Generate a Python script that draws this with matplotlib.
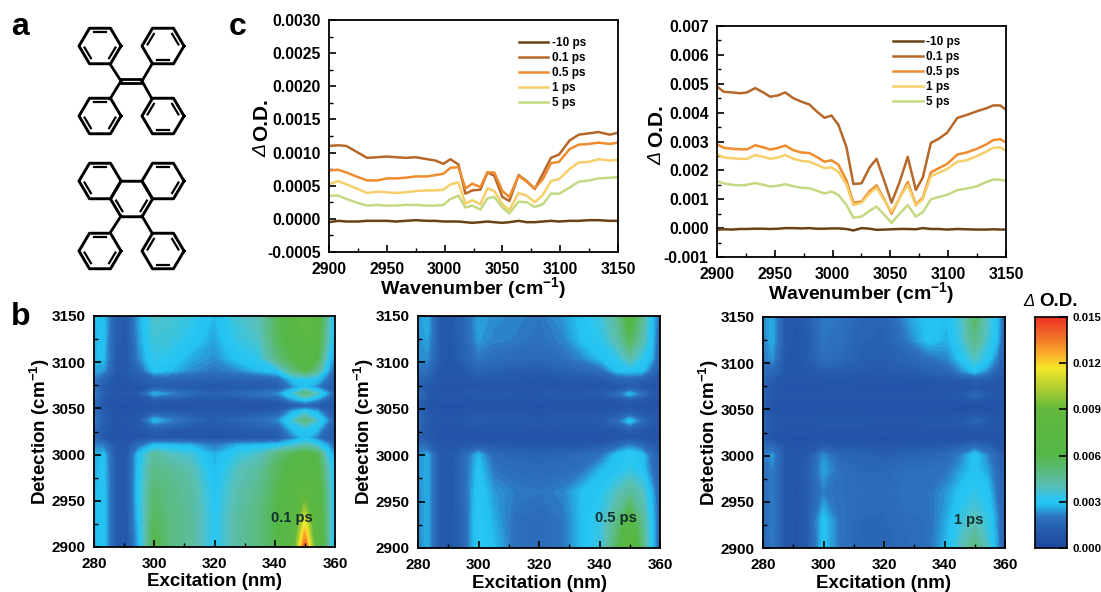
import numpy as np
import matplotlib
matplotlib.use("Agg")
import matplotlib.pyplot as plt
from matplotlib.colors import LinearSegmentedColormap

plt.rcParams["font.family"] = ["Liberation Sans", "DejaVu Sans"]
plt.rcParams["font.weight"] = "bold"
plt.rcParams["axes.labelweight"] = "bold"
plt.rcParams["mathtext.fontset"] = "custom"
plt.rcParams["mathtext.rm"] = "Liberation Sans:bold"
plt.rcParams["mathtext.bf"] = "Liberation Sans:bold"
plt.rcParams["mathtext.default"] = "bf"

W, H = 1101, 592

# ---- panel c data (units 1e-3 O.D.)
series_labels = ["-10 ps", "0.1 ps", "0.5 ps", "1 ps", "5 ps"]
series_colors = ["#6b4216", "#b5682a", "#ee8c2e", "#f6cf6a", "#c3d982"]

wn_left = [2900, 2908, 2915, 2925, 2933, 2942, 2950, 2958, 2966, 2975, 2985, 2992, 2999, 3005, 3012, 3018, 3024,
           3031, 3037, 3043, 3050, 3056, 3064, 3071, 3078, 3085, 3092, 3099, 3108, 3116, 3125, 3133, 3143, 3150]
left_m10 = [-.05, -.03, -.04, -.04, -.03, -.03, -.03, -.04, -.03, -.02, -.03, -.03, -.04, -.04, -.04, -.05, -.06,
            -.05, -.04, -.05, -.06, -.05, -.03, -.05, -.05, -.04, -.03, -.04, -.03, -.03, -.02, -.02, -.03, -.03]
left_01 = [1.10, 1.11, 1.10, 1.00, .92, .93, .94, .93, .92, .93, .90, .88, .83, .90, .82, .38, .43,
           .44, .70, .65, .33, .27, .66, .57, .45, .68, .92, .97, 1.18, 1.27, 1.29, 1.31, 1.27, 1.30]
left_05 = [.73, .74, .70, .63, .58, .58, .61, .61, .62, .64, .64, .66, .68, .77, .78, .46, .53,
           .48, .70, .70, .42, .33, .65, .56, .46, .60, .84, .86, 1.05, 1.12, 1.13, 1.15, 1.13, 1.15]
left_1 = [.52, .57, .52, .45, .39, .41, .40, .39, .40, .42, .43, .43, .44, .52, .55, .23, .28,
          .22, .46, .42, .22, .13, .39, .35, .25, .36, .57, .60, .75, .85, .86, .90, .88, .89]
left_5 = [.35, .35, .30, .24, .20, .21, .20, .20, .21, .21, .20, .20, .21, .30, .35, .17, .20,
          .14, .31, .33, .17, .08, .26, .25, .18, .22, .38, .38, .47, .56, .58, .61, .62, .63]

wn_right = [2900, 2906, 2913, 2920, 2926, 2933, 2940, 2946, 2953, 2959, 2966, 2973, 2980, 2986, 2993, 2999, 3005, 3012, 3018,
            3025, 3032, 3038, 3045, 3051, 3058, 3065, 3072, 3078, 3085, 3092, 3099, 3108, 3116, 3125, 3133, 3139, 3145, 3150]
right_m10 = [-.05, -.04, -.05, -.03, -.03, -.02, -.02, -.03, -.02, 0, 0, -.01, 0, -.02, -.02, -.01, -.01, -.03, -.08,
             0, -.02, -.06, -.05, -.04, -.03, -.03, -.04, 0, -.03, -.03, -.05, -.03, -.04, -.05, -.05, -.04, -.05, -.05]
right_01 = [4.9, 4.72, 4.70, 4.67, 4.70, 4.85, 4.70, 4.55, 4.60, 4.70, 4.50, 4.38, 4.28, 4.05, 3.82, 3.90, 3.58, 2.80, 1.53,
            1.55, 2.10, 2.40, 1.60, .88, 1.60, 2.47, 1.32, 1.75, 2.95, 3.10, 3.30, 3.82, 3.92, 4.05, 4.15, 4.25, 4.25, 4.10]
right_05 = [2.90, 2.78, 2.75, 2.73, 2.73, 2.87, 2.80, 2.72, 2.78, 2.86, 2.70, 2.62, 2.60, 2.47, 2.30, 2.35, 2.20, 1.65, .88,
            .92, 1.28, 1.48, .98, .50, 1.05, 1.60, .82, 1.05, 1.93, 2.08, 2.22, 2.55, 2.62, 2.75, 2.90, 3.05, 3.08, 2.97]
right_1 = [2.55, 2.45, 2.42, 2.40, 2.40, 2.53, 2.47, 2.40, 2.45, 2.53, 2.40, 2.33, 2.30, 2.20, 2.08, 2.10, 1.95, 1.50, .80,
           .88, 1.20, 1.40, .95, .57, 1.05, 1.50, .78, 1.00, 1.80, 1.92, 2.05, 2.30, 2.35, 2.50, 2.65, 2.78, 2.80, 2.68]
right_5 = [1.62, 1.55, 1.50, 1.48, 1.50, 1.56, 1.50, 1.44, 1.47, 1.52, 1.45, 1.40, 1.38, 1.30, 1.20, 1.27, 1.15, .80, .36,
           .40, .60, .75, .45, .18, .50, .80, .40, .55, 1.00, 1.08, 1.15, 1.32, 1.37, 1.45, 1.60, 1.68, 1.68, 1.63]

# ---- panel b data (units 1e-3 O.D.), rows follow detection, columns follow excitation
excitation = [280, 283, 287, 291, 295, 300, 305, 312, 320, 328, 335, 341, 346, 350, 354, 357, 360]
detection = [2900, 2930, 2960, 2985, 3000, 3010, 3018, 3028, 3037, 3046, 3053, 3060, 3066, 3073, 3082, 3092, 3105, 3125, 3150]

map_01 = [
    [2.6, 3.0, 1.1, 0.9, 2.6, 6.0, 5.0, 4.5, 3.1, 4.4, 5.0, 6.0, 7.5, 14.0, 7.2, 5.0, 2.2],
    [2.6, 3.0, 1.1, 1.0, 2.9, 5.6, 5.0, 4.5, 3.1, 4.4, 5.0, 6.0, 7.2, 11.0, 7.0, 5.0, 2.2],
    [2.6, 3.0, 1.1, 1.0, 3.1, 5.2, 4.9, 4.4, 3.0, 4.2, 4.8, 5.8, 6.6, 8.0, 6.6, 4.8, 2.3],
    [2.6, 2.9, 1.1, 1.0, 3.0, 4.8, 4.6, 4.1, 2.7, 3.9, 4.4, 5.6, 6.2, 6.8, 6.2, 4.4, 2.4],
    [2.6, 2.8, 1.1, 1.0, 2.9, 4.4, 3.9, 3.6, 2.6, 3.4, 3.8, 5.0, 5.8, 6.2, 5.8, 3.6, 2.2],
    [2.2, 2.0, 1.0, 0.9, 1.8, 2.8, 2.7, 2.6, 2.0, 2.6, 2.7, 2.9, 3.4, 4.0, 3.4, 2.6, 1.6],
    [1.7, 1.0, 0.8, 0.7, 0.8, 0.9, 0.9, 0.8, 0.8, 0.8, 0.9, 1.0, 2.0, 2.8, 2.0, 1.3, 1.1],
    [1.8, 1.1, 0.8, 0.8, 0.9, 1.3, 1.1, 1.0, 1.0, 1.1, 1.2, 1.4, 2.8, 3.0, 2.8, 1.6, 1.2],
    [2.2, 1.3, 0.8, 0.9, 1.1, 2.7, 2.2, 1.6, 1.2, 1.5, 1.8, 2.2, 3.5, 5.0, 3.5, 2.5, 1.3],
    [1.8, 1.1, 0.8, 0.8, 0.9, 1.2, 1.1, 1.0, 1.0, 1.0, 1.1, 1.3, 2.6, 3.2, 2.6, 1.4, 1.1],
    [1.6, 0.9, 0.7, 0.7, 0.7, 0.8, 0.7, 0.7, 0.7, 0.7, 0.7, 0.8, 1.0, 1.3, 1.0, 0.9, 0.9],
    [1.9, 1.1, 0.8, 0.8, 0.8, 1.2, 1.1, 1.0, 1.0, 1.0, 1.1, 1.3, 2.4, 3.0, 2.4, 1.5, 1.1],
    [2.2, 1.3, 0.9, 0.9, 1.1, 2.6, 2.2, 1.7, 1.3, 1.6, 1.9, 2.2, 3.4, 4.9, 3.6, 2.6, 1.3],
    [1.9, 1.1, 0.8, 0.8, 0.8, 1.1, 1.0, 1.0, 0.9, 1.0, 1.0, 1.1, 2.2, 2.8, 2.2, 1.4, 1.1],
    [2.1, 1.5, 0.9, 0.9, 1.2, 1.5, 1.5, 1.4, 1.3, 1.4, 1.4, 1.6, 2.9, 3.0, 2.9, 2.0, 1.2],
    [2.6, 2.4, 1.1, 1.0, 1.6, 3.0, 2.8, 2.3, 2.0, 2.3, 2.8, 3.2, 5.0, 6.0, 4.8, 2.9, 1.5],
    [2.7, 2.8, 1.1, 1.0, 2.2, 3.3, 3.2, 2.6, 2.3, 3.0, 3.3, 5.0, 6.0, 6.8, 6.0, 3.7, 2.0],
    [2.7, 2.8, 1.2, 1.0, 2.4, 3.6, 3.5, 3.1, 2.5, 3.4, 3.8, 5.6, 6.4, 7.4, 6.4, 4.4, 2.2],
    [2.7, 2.9, 1.2, 1.1, 2.5, 3.8, 3.7, 3.4, 2.7, 3.7, 4.1, 5.7, 6.6, 9.0, 6.6, 4.6, 2.3],
]
map_05 = [
    [2.1, 2.6, 1.1, 0.9, 1.4, 3.2, 2.8, 1.9, 1.7, 2.0, 2.9, 3.6, 5.6, 7.8, 5.0, 3.0, 1.4],
    [2.2, 2.6, 1.1, 0.9, 1.5, 3.2, 2.6, 1.9, 1.7, 2.0, 2.9, 3.5, 4.9, 6.4, 4.6, 3.0, 1.4],
    [2.2, 2.6, 1.1, 0.9, 1.6, 3.1, 2.4, 2.1, 2.0, 2.2, 2.9, 3.2, 3.9, 4.5, 3.9, 2.7, 1.4],
    [2.3, 2.6, 1.1, 0.9, 1.6, 2.9, 2.0, 1.8, 1.7, 1.8, 2.0, 2.7, 3.0, 3.3, 3.0, 2.0, 1.3],
    [2.3, 2.6, 1.1, 1.0, 1.6, 2.7, 1.7, 1.5, 1.4, 1.5, 1.7, 2.0, 2.9, 3.2, 2.9, 1.8, 1.2],
    [2.0, 1.5, 1.0, 0.9, 1.0, 1.2, 1.1, 1.0, 1.0, 1.0, 1.0, 1.2, 1.7, 2.2, 1.7, 1.2, 1.0],
    [1.4, 1.0, 0.8, 0.7, 0.7, 0.7, 0.7, 0.7, 0.7, 0.7, 0.7, 0.7, 0.8, 0.9, 0.9, 0.8, 0.7],
    [1.5, 1.0, 0.8, 0.8, 0.8, 0.9, 0.9, 0.9, 0.8, 0.9, 0.9, 0.9, 1.0, 1.2, 1.0, 0.9, 0.8],
    [1.7, 1.1, 0.9, 0.9, 1.0, 1.2, 1.1, 1.1, 1.0, 1.1, 1.1, 1.2, 1.7, 2.9, 1.7, 1.2, 0.9],
    [1.5, 1.0, 0.8, 0.8, 0.8, 0.9, 0.9, 0.9, 0.8, 0.9, 0.9, 0.9, 1.0, 1.2, 1.0, 0.9, 0.8],
    [1.3, 0.9, 0.7, 0.7, 0.7, 0.7, 0.7, 0.7, 0.7, 0.7, 0.7, 0.7, 0.7, 0.8, 0.7, 0.7, 0.7],
    [1.5, 1.0, 0.8, 0.8, 0.8, 0.9, 0.9, 0.9, 0.8, 0.9, 0.9, 0.9, 1.0, 1.2, 1.0, 0.9, 0.8],
    [1.9, 1.1, 0.9, 0.9, 1.0, 1.1, 1.1, 1.0, 1.0, 1.1, 1.1, 1.2, 1.7, 2.7, 1.8, 1.2, 0.9],
    [1.5, 1.0, 0.8, 0.8, 0.8, 0.8, 0.8, 0.8, 0.8, 0.8, 0.8, 0.8, 0.9, 1.1, 0.9, 0.8, 0.8],
    [1.6, 1.2, 0.9, 0.9, 0.9, 1.0, 1.0, 1.0, 0.9, 1.0, 1.0, 1.1, 1.4, 1.6, 1.4, 1.1, 0.9],
    [2.0, 1.8, 1.0, 0.9, 1.0, 1.5, 1.3, 1.2, 1.2, 1.3, 1.6, 1.9, 2.9, 3.0, 2.9, 1.9, 1.0],
    [2.3, 2.3, 1.1, 0.9, 1.3, 2.0, 1.8, 1.7, 1.6, 1.9, 2.3, 2.9, 3.3, 4.2, 3.3, 2.7, 1.2],
    [2.3, 2.5, 1.1, 0.9, 1.4, 2.4, 2.2, 2.1, 1.9, 2.2, 2.9, 3.3, 4.2, 5.6, 4.2, 2.9, 1.4],
    [2.4, 2.6, 1.1, 1.0, 1.5, 2.5, 2.3, 2.2, 2.0, 2.4, 3.0, 3.6, 4.6, 6.5, 4.6, 3.0, 1.6],
]
map_1 = [
    [1.6, 2.0, 1.0, 0.8, 1.1, 2.9, 2.0, 1.5, 1.5, 1.7, 1.9, 2.8, 4.0, 5.0, 3.8, 2.5, 1.1],
    [1.7, 2.1, 1.0, 0.8, 1.2, 2.9, 2.0, 1.6, 1.6, 1.8, 1.9, 2.6, 3.5, 4.0, 3.4, 2.4, 1.1],
    [1.7, 2.1, 1.0, 0.8, 1.2, 2.1, 1.9, 1.8, 1.7, 2.0, 2.0, 2.4, 3.0, 3.3, 3.0, 2.0, 1.2],
    [1.8, 2.1, 1.0, 0.9, 1.2, 2.5, 1.9, 1.6, 1.6, 1.9, 1.9, 2.0, 2.5, 2.9, 2.5, 1.8, 1.1],
    [2.0, 2.4, 1.0, 0.9, 1.1, 2.3, 1.6, 1.4, 1.3, 1.4, 1.5, 1.7, 2.2, 3.0, 2.2, 1.6, 1.0],
    [1.8, 1.6, 0.9, 0.8, 0.9, 1.1, 1.0, 1.0, 0.9, 1.0, 1.0, 1.1, 1.4, 1.7, 1.4, 1.0, 0.9],
    [1.2, 0.9, 0.7, 0.7, 0.7, 0.7, 0.7, 0.7, 0.7, 0.7, 0.7, 0.7, 0.7, 0.8, 0.8, 0.7, 0.7],
    [1.3, 0.9, 0.8, 0.8, 0.8, 0.8, 0.8, 0.8, 0.8, 0.8, 0.8, 0.8, 0.9, 0.9, 0.9, 0.8, 0.8],
    [1.4, 1.0, 0.9, 0.9, 0.9, 1.0, 1.0, 1.0, 0.9, 0.9, 1.0, 1.0, 1.1, 1.5, 1.1, 1.0, 0.9],
    [1.3, 0.9, 0.8, 0.8, 0.8, 0.8, 0.8, 0.8, 0.8, 0.8, 0.8, 0.8, 0.8, 0.9, 0.8, 0.8, 0.8],
    [1.1, 0.8, 0.7, 0.7, 0.7, 0.7, 0.7, 0.7, 0.7, 0.7, 0.7, 0.7, 0.7, 0.7, 0.7, 0.7, 0.7],
    [1.3, 0.9, 0.8, 0.8, 0.8, 0.8, 0.8, 0.8, 0.8, 0.8, 0.8, 0.8, 0.8, 0.9, 0.8, 0.8, 0.8],
    [1.5, 1.0, 0.9, 0.9, 0.9, 1.0, 1.0, 1.0, 0.9, 0.9, 1.0, 1.0, 1.1, 1.6, 1.1, 1.0, 0.9],
    [1.4, 0.9, 0.8, 0.8, 0.8, 0.8, 0.8, 0.8, 0.8, 0.8, 0.8, 0.8, 0.8, 0.9, 0.8, 0.8, 0.8],
    [1.5, 1.1, 0.9, 0.9, 0.9, 0.9, 0.9, 0.9, 0.9, 0.9, 0.9, 1.0, 1.1, 1.2, 1.1, 1.0, 0.9],
    [1.8, 1.7, 1.0, 0.9, 1.0, 1.2, 1.2, 1.1, 1.1, 1.2, 1.3, 1.6, 2.3, 2.9, 2.3, 1.5, 1.0],
    [2.0, 2.3, 1.0, 0.9, 1.1, 1.8, 1.7, 1.3, 1.2, 1.5, 1.9, 2.2, 3.0, 3.8, 3.1, 2.2, 1.1],
    [2.1, 2.6, 1.1, 0.9, 1.1, 2.0, 1.9, 1.4, 1.3, 2.1, 2.9, 2.6, 3.6, 4.8, 3.6, 2.9, 1.2],
    [2.2, 2.6, 1.1, 1.0, 1.2, 2.1, 2.0, 1.5, 1.4, 2.4, 3.0, 2.8, 3.8, 5.4, 3.8, 3.0, 1.3],
]
map_labels = ["0.1 ps", "0.5 ps", "1 ps"]
map_label_x = [345.7, 345.5, 348]
map_label_y = [2931, 2932, 2930]

# ---- colour bar
cbar_values = [0, 1.0, 2.0, 2.8, 3.2, 4.0, 5.0, 6.0, 9.0, 10.5, 11.7, 12.5, 13.5, 15.0]
cbar_colors = ["#1f47a0", "#2458ab", "#2e72bf", "#24c0f0", "#2ac6f2", "#5abfb8", "#5bbb80", "#55b748",
               "#62b83f", "#b8d030", "#f5e82a", "#fbb52a", "#f47b2a", "#ee3224"]
cmap = LinearSegmentedColormap.from_list("od", [(v / 15.0, c) for v, c in zip(cbar_values, cbar_colors)], N=512)

# ---- molecule sketch, in picture pixels: centre, then which ring sides carry a double bond
# side numbers: 0 lower right, 1 bottom, 2 lower left, 3 upper left, 4 top, 5 upper right
rings = [
    (100, 46, [4, 2, 0]), (163, 46, [3, 5, 1]), (100, 116, [4, 2, 0]), (163, 116, [3, 5, 1]),
    (100, 181, [4, 2]), (163, 181, [4, 0]), (131.5, 199, [2, 0]), (100, 251, [4, 2, 0]), (163, 251, [3, 5, 1]),
]
bonds = [
    ((110, 64), (121, 81)), ((152, 64), (142, 81)), ((110, 99), (121, 81)), ((152, 99), (142, 81)),
    ((121, 79), (142, 79)), ((121, 83), (142, 83)),
    ((121, 216), (110, 233)), ((142, 216), (152, 233)),
]


def box(x0, y0, x1, y1):
    return [x0 / W, 1 - y1 / H, (x1 - x0) / W, (y1 - y0) / H]


def style_axes(ax, size):
    ax.tick_params(which="major", direction="in", length=5, width=1.2, labelsize=size, pad=6, top=False, right=False)
    ax.tick_params(which="minor", direction="in", length=3, width=1.0, top=False, right=False)
    for s in ax.spines.values():
        s.set_linewidth(1.3)


def delta_label(px, py_od, py_delta, size=15):
    fig.text(px / W, 1 - py_od / H, "O.D.", rotation=90, ha="center", va="center", fontsize=size)
    fig.text(px / W, 1 - py_delta / H, "\u0394", rotation=90, ha="center", va="center", fontsize=size - 1,
             style="italic", weight="normal")


def spectrum(ax_box, wn, ys, ylim, ystep, fmt, legend_at, ylabel_at):
    ax = fig.add_axes(box(*ax_box))
    for y, label, c in zip(ys, series_labels, series_colors):
        ax.plot(wn, np.array(y) * 1e-3, color=c, lw=1.8, label=label)
    ax.set_xlim(2900, 3150)
    ax.set_ylim(*ylim)
    ax.set_xticks(np.arange(2900, 3151, 50))
    ax.set_xticks(np.arange(2925, 3150, 50), minor=True)
    ax.set_yticks(np.arange(ylim[0], ylim[1] + ystep / 2, ystep))
    ax.set_yticks(np.arange(ylim[0] + ystep / 2, ylim[1], ystep), minor=True)
    ax.yaxis.set_major_formatter(plt.FormatStrFormatter(fmt))
    style_axes(ax, 11.4)
    ax.tick_params(axis="x", pad=7)
    ax.set_xlabel("Wavenumber (cm$^{-1}$)", fontsize=14, labelpad=-1.5)
    ax.legend(loc="upper left", bbox_to_anchor=legend_at, frameon=False, fontsize=8.5, handlelength=2.5,
              handletextpad=0.3, labelspacing=0.25, borderpad=0, borderaxespad=0)
    delta_label(*ylabel_at)
    return ax


def heat(ax_box, values, label, lx, ly):
    ax = fig.add_axes(box(*ax_box))
    z = np.array(values) * 1e-3
    cs = ax.contourf(excitation, detection, z, levels=np.linspace(0, 0.015, 121), cmap=cmap, vmin=0, vmax=0.015)
    cs.set_edgecolor("face")
    ax.set_xlim(280, 360)
    ax.set_ylim(2900, 3150)
    ax.set_xticks(np.arange(280, 361, 20))
    ax.set_xticks(np.arange(290, 360, 20), minor=True)
    ax.set_yticks(np.arange(2900, 3151, 50))
    ax.set_yticks(np.arange(2925, 3150, 50), minor=True)
    style_axes(ax, 11)
    ax.tick_params(axis="x", pad=7)
    ax.set_xlabel("Excitation (nm)", fontsize=13.5, labelpad=2)
    ax.set_ylabel("Detection (cm$^{-1}$)", fontsize=13.5, labelpad=0)
    ax.text(lx, ly, label, ha="center", va="center", fontsize=10.5, color="#103030")
    return ax


fig = plt.figure(figsize=(W / 100, H / 100), dpi=100)

# molecules and panel letters on a picture-sized layer
sk = fig.add_axes([0, 0, 1, 1])
sk.set_xlim(0, W)
sk.set_ylim(H, 0)
sk.axis("off")
ang = np.deg2rad(np.arange(0, 420, 60))
for cx, cy, sides in rings:
    sk.plot(cx + 21 * np.cos(ang), cy + 20.5 * np.sin(ang), color="black", lw=2.1, solid_joinstyle="round")
    for s in sides:
        a0, a1 = ang[s] + np.deg2rad(6), ang[s + 1] - np.deg2rad(6)
        sk.plot([cx + 15.5 * np.cos(a0), cx + 15.5 * np.cos(a1)],
                [cy + 15 * np.sin(a0), cy + 15 * np.sin(a1)], color="black", lw=1.6)
for p0, p1 in bonds:
    sk.plot([p0[0], p1[0]], [p0[1], p1[1]], color="black", lw=2.0)
sk.text(20, 27, "a", fontsize=23, ha="center", va="center")
sk.text(238, 27, "c", fontsize=23, ha="center", va="center")
sk.text(21, 317, "b", fontsize=23, ha="center", va="center")

spectrum((329, 20, 618, 252), wn_left, [left_m10, left_01, left_05, left_1, left_5], (-0.0005, 0.003), 0.0005,
         "%.4f", (0.657, 0.927), (262, 120, 150))
spectrum((717, 26, 1006, 257), wn_right, [right_m10, right_01, right_05, right_1, right_5], (-0.001, 0.007), 0.001,
         "%.3f", (0.61, 0.955), (657, 126, 158))

heat((94, 316, 335, 547), map_01, map_labels[0], map_label_x[0], map_label_y[0])
heat((418, 316, 660, 548), map_05, map_labels[1], map_label_x[1], map_label_y[1])
heat((763, 317, 1005, 548), map_1, map_labels[2], map_label_x[2], map_label_y[2])

# colour bar
cb = fig.add_axes(box(1035, 317, 1067, 548))
cb.imshow(np.linspace(0, 0.015, 512).reshape(-1, 1), origin="lower", aspect="auto", cmap=cmap,
          extent=[0, 1, 0, 0.015], vmin=0, vmax=0.015)
cb.set_xticks([])
cb.set_yticks(np.arange(0, 0.0151, 0.003))
cb.yaxis.set_major_formatter(plt.FormatStrFormatter("%.3f"))
cb.yaxis.tick_right()
cb.tick_params(direction="in", length=6, width=1.2, labelsize=8.2, pad=4)
for s in cb.spines.values():
    s.set_linewidth(1.2)
fig.text(1059 / W, 1 - 301 / H, "O.D.", ha="center", va="center", fontsize=13.5)
fig.text(1029 / W, 1 - 302 / H, "\u0394", ha="center", va="center", fontsize=12, style="italic", weight="normal")

fig.savefig("out.png", dpi=100)
